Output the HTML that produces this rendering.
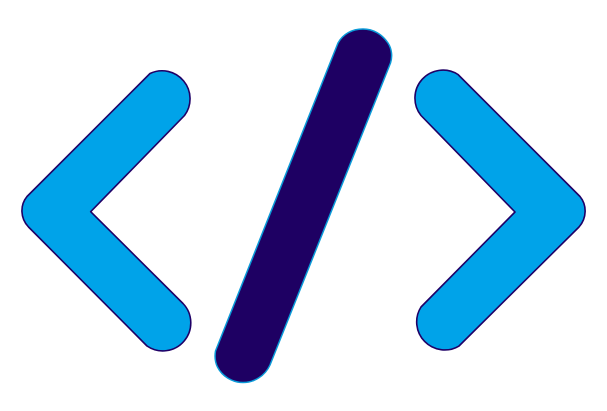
<!DOCTYPE html>
<html lang="en">
<head>
<meta charset="utf-8">
<title>Code icon</title>
<style>
html,body{margin:0;padding:0;background:#fff;width:607px;height:411px;overflow:hidden}
svg{display:block}
</style>
</head>
<body>
<svg width="607" height="411" viewBox="0 0 607 411" xmlns="http://www.w3.org/2000/svg">
  <rect width="607" height="411" fill="#ffffff"/>
  <path fill="#00a3e9" stroke="#1f0066" stroke-width="1.6" stroke-linejoin="round"
    d="M150 73.5 A28 28 0 0 1 184.5 115.5 L90.7 211.7 L183 303.5 A28 28 0 0 1 147 346 L28.5 227 C20 218 20 205 27 196.5 Z"/>
  <path fill="#1e0063" stroke="#0a9ad8" stroke-width="1.5" stroke-linejoin="round"
    d="M338 43 C343 34 352 29 363 29 C373 29 382 34 388 43 C392 49 392.5 57 390.5 63 L270 365 C265 376 254 382.5 243 382.5 C232 382.5 222 376 217.5 367 C215 362 214.5 357 215.5 351 Z"/>
  <path fill="#00a3e9" stroke="#1f0066" stroke-width="1.6" stroke-linejoin="round"
    d="M458 74.5 A28 28 0 0 0 421 115.5 L515 212 L421 307 A28 28 0 0 0 459 346 L579 227 C587 218 587 205 580 196.5 Z"/>
</svg>
</body>
</html>
